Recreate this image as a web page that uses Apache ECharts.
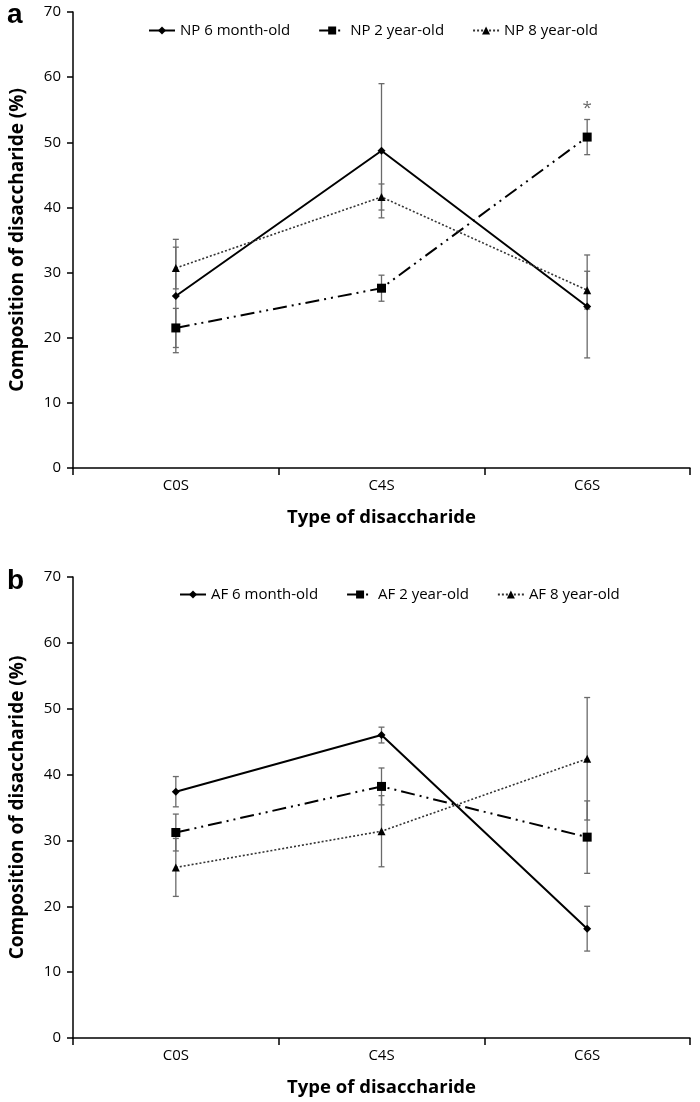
<!DOCTYPE html>
<html>
<head>
<meta charset="utf-8">
<script src="https://cdn.jsdelivr.net/npm/echarts@6/dist/echarts.min.js"></script>
<style>
html,body{margin:0;padding:0;background:#fff;}
#chart{width:700px;height:1102px;}
</style>
</head>
<body>
<div id="chart"></div>
<script>
const categories = ['C0S', 'C4S', 'C6S'];
const yTicks = [0, 10, 20, 30, 40, 50, 60, 70];

const npNames = ['NP 6 month-old', 'NP 2 year-old', 'NP 8 year-old'];
const np6m = [26.4, 48.7, 24.8];
const np6mErr = [8.7, 10.3, 7.9];
const np2y = [21.5, 27.6, 50.8];
const np2yErr = [3.0, 2.0, 2.7];
const np8y = [30.7, 41.6, 27.3];
const np8yErr = [3.2, 2.0, 2.9];
const npStar = [[2, 55.2]];

const afNames = ['AF 6 month-old', 'AF 2 year-old', 'AF 8 year-old'];
const af6m = [37.4, 46.0, 16.6];
const af6mErr = [2.3, 1.2, 3.4];
const af2y = [31.2, 38.2, 30.5];
const af2yErr = [2.8, 2.8, 5.5];
const af8y = [25.9, 31.4, 42.4];
const af8yErr = [4.4, 5.4, 9.3];

const FONT = '"Open Sans", "Liberation Sans", sans-serif';
const styles = [
  {symbol: 'diamond', symbolSize: 8, line: {type: 'solid', width: 2, color: '#000'}},
  {symbol: 'rect', symbolSize: 9, line: {type: [14, 5, 2, 5, 2, 5], width: 2, color: '#000'}},
  {symbol: 'triangle', symbolSize: 8, line: {type: [2, 2], width: 1.6, color: '#333'}}
];

function lineSeries(name, data, idx, gi) {
  const s = styles[idx];
  return {
    type: 'line', name: name, data: data, xAxisIndex: gi, yAxisIndex: gi,
    symbol: s.symbol, symbolSize: s.symbolSize, showSymbol: true,
    itemStyle: {color: '#000'},
    lineStyle: s.line, z: 5, animation: false
  };
}
function errSeries(vals, errs, gi) {
  const d = vals.map((v, i) => [i, v - errs[i], v + errs[i]]);
  return {
    type: 'custom', xAxisIndex: gi, yAxisIndex: gi, data: d, z: 3, animation: false,
    silent: true,
    renderItem: function (params, api) {
      const x = api.value(0);
      const lo = api.coord([x, api.value(1)]);
      const hi = api.coord([x, api.value(2)]);
      const w = 3;
      const st = {stroke: '#6a6a6a', lineWidth: 1.3};
      return {type: 'group', children: [
        {type: 'line', shape: {x1: hi[0], y1: hi[1], x2: lo[0], y2: lo[1]}, style: st},
        {type: 'line', shape: {x1: hi[0] - w, y1: hi[1], x2: hi[0] + w, y2: hi[1]}, style: st},
        {type: 'line', shape: {x1: lo[0] - w, y1: lo[1], x2: lo[0] + w, y2: lo[1]}, style: st}
      ]};
    }
  };
}

function xAxis(gi) {
  return {
    type: 'category', data: categories, gridIndex: gi, boundaryGap: true,
    axisLine: {lineStyle: {color: '#000', width: 1.5}},
    axisTick: {show: true, interval: 0, length: 7, lineStyle: {color: '#000', width: 1.5}},
    axisLabel: {color: '#000', fontSize: 15, fontFamily: FONT, margin: 10},
    name: 'Type of disaccharide', nameLocation: 'middle', nameGap: 40,
    nameTextStyle: {color: '#000', fontSize: 18.5, fontWeight: 'bold', fontFamily: FONT}
  };
}
function yAxis(gi) {
  return {
    type: 'value', gridIndex: gi, min: yTicks[0], max: yTicks[yTicks.length - 1], interval: 10,
    axisLine: {show: true, lineStyle: {color: '#000', width: 1.5}},
    axisTick: {show: true, length: 6, lineStyle: {color: '#000', width: 1.5}},
    splitLine: {show: false},
    axisLabel: {color: '#000', fontSize: 15, fontFamily: FONT, margin: 12},
    name: 'Composition of disaccharide (%)', nameLocation: 'middle', nameGap: 46,
    nameTextStyle: {color: '#000', fontSize: 19, fontWeight: 'bold', fontFamily: FONT}
  };
}
function legend(names, top, left) {
  return {
    data: names, top: top, left: left, orient: 'horizontal', itemGap: 28,
    itemWidth: 26, itemHeight: 10,
    textStyle: {color: '#000', fontSize: 15, fontFamily: FONT}
  };
}

const chart = echarts.init(document.getElementById('chart'), null, {renderer: 'canvas'});
chart.setOption({
  animation: false,
  backgroundColor: '#fff',
  grid: [
    {left: 72, right: 10, top: 12, height: 456},
    {left: 72, right: 10, top: 577, height: 461}
  ],
  title: [
    {text: 'a', left: 2, top: -4, textStyle: {fontSize: 28, fontWeight: 'bold', color: '#000', fontFamily: 'Liberation Sans, sans-serif'}},
    {text: 'b', left: 2, top: 562, textStyle: {fontSize: 28, fontWeight: 'bold', color: '#000', fontFamily: 'Liberation Sans, sans-serif'}}
  ],
  legend: [legend(npNames, 18, 143), legend(afNames, 582, 174)],
  xAxis: [xAxis(0), xAxis(1)],
  yAxis: [yAxis(0), yAxis(1)],
  series: [
    errSeries(np6m, np6mErr, 0), errSeries(np2y, np2yErr, 0), errSeries(np8y, np8yErr, 0),
    lineSeries(npNames[0], np6m, 0, 0), lineSeries(npNames[1], np2y, 1, 0), lineSeries(npNames[2], np8y, 2, 0),
    {type: 'scatter', xAxisIndex: 0, yAxisIndex: 0, data: npStar, symbol: 'circle', symbolSize: 1,
     itemStyle: {color: 'rgba(0,0,0,0)'}, silent: true, z: 6,
     label: {show: true, formatter: '*', color: '#444', fontSize: 17, position: 'inside', fontFamily: FONT}},
    errSeries(af6m, af6mErr, 1), errSeries(af2y, af2yErr, 1), errSeries(af8y, af8yErr, 1),
    lineSeries(afNames[0], af6m, 0, 1), lineSeries(afNames[1], af2y, 1, 1), lineSeries(afNames[2], af8y, 2, 1)
  ]
});
</script>
</body>
</html>
